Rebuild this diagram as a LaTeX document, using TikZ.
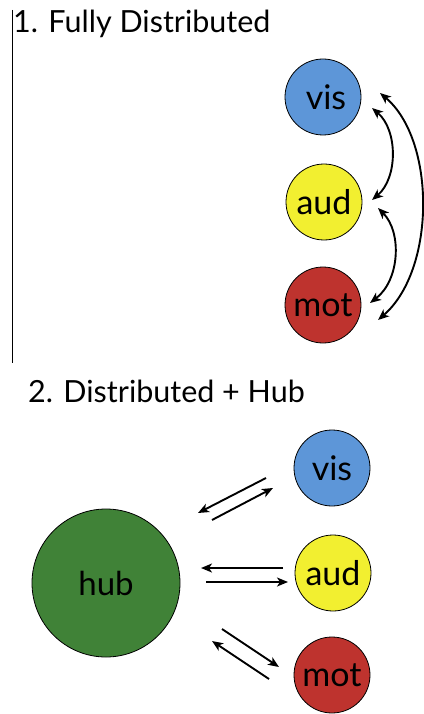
\documentclass[tikz,border=0pt]{standalone}
\usepackage{fontspec}
\setmainfont{Lato}
\usetikzlibrary{arrows.meta}
\begin{document}
\begin{tikzpicture}[x=1pt,y=-1pt,
  mod/.style={circle,draw=black,line width=0.8pt,minimum size=76pt,inner sep=0pt,font=\fontsize{34}{34}\selectfont},
  hubc/.style={circle,draw=black,line width=0.8pt,minimum size=148pt,inner sep=0pt,font=\fontsize{33}{33}\selectfont},
  ttl/.style={anchor=base west,inner sep=0pt,font=\fontsize{30.5}{30.5}\selectfont},
  tip/.tip={Stealth[length=11pt,width=9pt,inset=3pt]},
  arr/.style={line width=1.9pt,-tip},
  darr/.style={line width=1.9pt,tip-tip}]
\useasboundingbox (0,0) rectangle (423,714);
\definecolor{visc}{RGB}{93,150,216}
\definecolor{audc}{RGB}{242,239,48}
\definecolor{motc}{RGB}{190,51,46}
\definecolor{hubcol}{RGB}{64,130,55}
% part 1
\node[ttl] (t1) at (13,33) {1. Fully Distributed};
\coordinate (l1) at (12,10);
\coordinate (l2) at (12,363);
\draw[line width=0.9pt] (l1) -- (l2);
\node[mod,fill=visc] (vis1) at (323,97) {\hspace{6pt}vis};
\node[mod,fill=audc] (aud1) at (324,202) {aud};
\node[mod,fill=motc] (mot1) at (323,305) {mot};
\coordinate (a1s) at (372,108);
\coordinate (a1e) at (372,200);
\coordinate (a2s) at (378,208);
\coordinate (a2e) at (370,303);
\coordinate (a3s) at (380,93);
\coordinate (a3e) at (378,320);
\draw[darr] (a1s) .. controls (398,130) and (398,178) .. (a1e);
\draw[darr] (a2s) .. controls (402,232) and (400,280) .. (a2e);
\draw[darr] (a3s) .. controls (436,140) and (436,270) .. (a3e);
% part 2
\node[ttl] (t2) at (28,402) {2. Distributed + Hub};
\node[hubc,fill=hubcol] (hub) at (106,583) {hub};
\node[mod,fill=visc] (vis2) at (332,468) {vis};
\node[mod,fill=audc] (aud2) at (333,573) {aud};
\node[mod,fill=motc] (mot2) at (332,675) {mot};
\coordinate (u1s) at (266,478);
\coordinate (u1e) at (198,513);
\coordinate (u2s) at (212,520);
\coordinate (u2e) at (273,488);
\coordinate (m1s) at (283,568);
\coordinate (m1e) at (201,568);
\coordinate (m2s) at (206,582);
\coordinate (m2e) at (288,582);
\coordinate (d1s) at (222,629);
\coordinate (d1e) at (279,667);
\coordinate (d2s) at (269,679);
\coordinate (d2e) at (212,641);
\draw[arr] (u1s) -- (u1e);
\draw[arr] (u2s) -- (u2e);
\draw[arr] (m1s) -- (m1e);
\draw[arr] (m2s) -- (m2e);
\draw[arr] (d1s) -- (d1e);
\draw[arr] (d2s) -- (d2e);
\end{tikzpicture}
\end{document}
